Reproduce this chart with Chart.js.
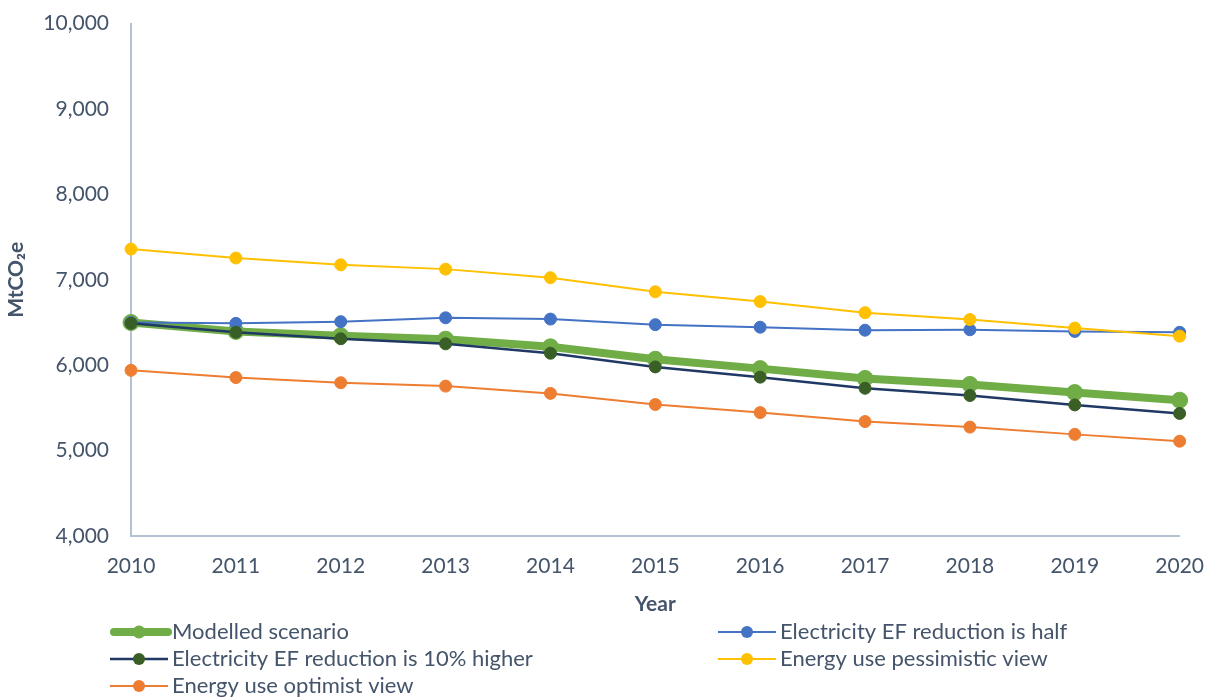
<!DOCTYPE html>
<html>
<head>
<meta charset="utf-8">
<title>Emissions scenarios</title>
<script src="https://cdn.jsdelivr.net/npm/chart.js"></script>
<style>
  html, body { margin: 0; padding: 0; background: #fff; overflow: hidden; }
  #wrap { width: 1222px; height: 708px; position: relative; margin-top: -11px; }
</style>
</head>
<body>
<div id="wrap"><canvas id="chart"></canvas></div>
<script>
// years on the x axis
const years = ['2010', '2011', '2012', '2013', '2014', '2015', '2016', '2017', '2018', '2019', '2020'];

// MtCO2e per scenario
const modelled     = [6500, 6395, 6345, 6305, 6215, 6070, 5960, 5845, 5775, 5680, 5590];
const efHalf       = [6500, 6490, 6510, 6555, 6540, 6475, 6445, 6410, 6415, 6395, 6385];
const efTenHigher  = [6490, 6385, 6310, 6250, 6140, 5980, 5860, 5730, 5645, 5535, 5435];
const pessimistic  = [7360, 7255, 7175, 7125, 7025, 6860, 6745, 6615, 6535, 6435, 6340];
const optimist     = [5940, 5855, 5795, 5755, 5670, 5540, 5445, 5340, 5275, 5190, 5110];

const yTicks = [4000, 5000, 6000, 7000, 8000, 9000, 10000];

const TEXT = '#44546A';
const AXIS = '#B4C0D4';
const FONT = 'Lato, "Liberation Sans", sans-serif';

const series = [
  { label: 'Modelled scenario', data: modelled, line: '#70AD47', fill: '#70AD47', width: 8, r: 8, order: 5 },
  { label: 'Electricity EF reduction is half', data: efHalf, line: '#4472C4', fill: '#4472C4', width: 2, r: 6, order: 4 },
  { label: 'Electricity EF reduction is 10% higher', data: efTenHigher, line: '#203864', fill: '#3A5F26', width: 2.5, r: 6, order: 3 },
  { label: 'Energy use pessimistic view', data: pessimistic, line: '#FFC000', fill: '#FFC000', width: 2, r: 6, order: 2 },
  { label: 'Energy use optimist view', data: optimist, line: '#ED7D31', fill: '#ED7D31', width: 2, r: 6, order: 1 }
];

// legend grid: [column x, row y] for each series, in dataset order (canvas coords)
const legendSlots = [[110, 643], [718, 643], [110, 670], [718, 670], [110, 697]];

const gridLegend = {
  id: 'gridLegend',
  afterDraw(chart) {
    const ctx = chart.ctx;
    ctx.save();
    series.forEach((s, i) => {
      const [x, y] = legendSlots[i];
      ctx.strokeStyle = s.line;
      ctx.lineWidth = s.width;
      ctx.lineCap = s.width > 4 ? 'round' : 'butt';
      ctx.beginPath();
      ctx.moveTo(x + (s.width > 4 ? 4 : 0), y);
      ctx.lineTo(x + 58, y);
      ctx.stroke();
      ctx.fillStyle = s.fill;
      ctx.beginPath();
      ctx.arc(x + 29, y, s.width > 4 ? 6.5 : 6, 0, Math.PI * 2);
      ctx.fill();
      ctx.fillStyle = TEXT;
      ctx.font = '22px ' + FONT;
      ctx.textBaseline = 'middle';
      ctx.textAlign = 'left';
      ctx.fillText(s.label, x + 62, y);
    });
    ctx.restore();
  }
};

new Chart(document.getElementById('chart'), {
  type: 'line',
  data: {
    labels: years,
    datasets: series.map(s => ({
      label: s.label,
      data: s.data,
      order: s.order,
      borderColor: s.line,
      borderWidth: s.width,
      backgroundColor: s.fill,
      pointBackgroundColor: s.fill,
      pointBorderColor: s.width > 4 ? s.line : s.fill,
      pointBorderWidth: 1,
      pointRadius: s.r,
      pointHoverRadius: s.r,
      tension: 0,
      fill: false
    }))
  },
  options: {
    responsive: true,
    maintainAspectRatio: false,
    animation: false,
    layout: { padding: { top: 0, right: 35, bottom: 76, left: 0 } },
    plugins: {
      legend: { display: false },
      tooltip: { enabled: false }
    },
    scales: {
      x: {
        offset: false,
        grid: { display: false, drawTicks: false },
        border: { color: AXIS, width: 2 },
        ticks: { color: TEXT, font: { family: FONT, size: 21 }, padding: 18, maxRotation: 0 },
        title: { display: true, text: 'Year', color: TEXT, font: { family: FONT, size: 21, weight: 'bold' }, padding: { top: 10 } },
        afterFit(scale) { scale.height = 85; }
      },
      y: {
        min: 4000,
        max: 10000,
        grid: { display: false, drawTicks: false },
        border: { color: AXIS, width: 2 },
        afterBuildTicks(scale) { scale.ticks = yTicks.map(v => ({ value: v })); },
        ticks: {
          color: TEXT,
          font: { family: FONT, size: 21 },
          padding: 22,
          callback: v => v.toLocaleString('en-US')
        },
        title: { display: true, text: 'MtCO₂e', color: TEXT, font: { family: FONT, size: 21, weight: 'bold' }, padding: { top: 4, bottom: 0 } },
        afterFit(scale) { scale.width = 131; }
      }
    }
  },
  plugins: [gridLegend]
});
</script>
</body>
</html>
